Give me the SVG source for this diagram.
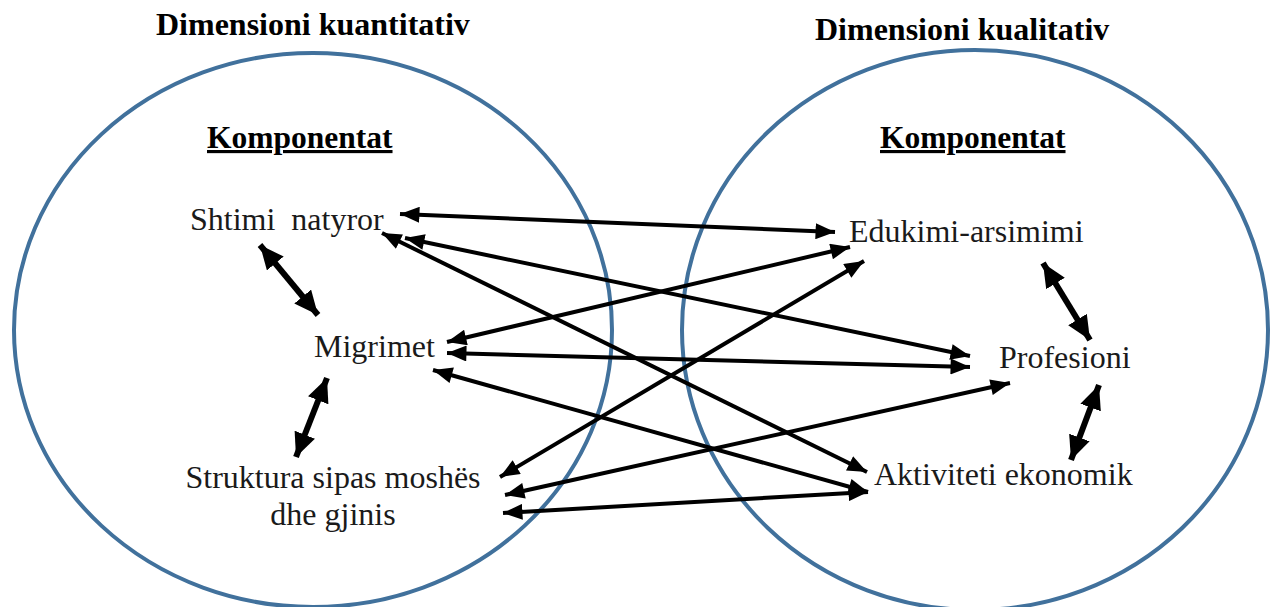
<svg xmlns="http://www.w3.org/2000/svg" width="1274" height="607" viewBox="0 0 1274 607">
<style>
.ring{fill:none;stroke:#41719c;stroke-width:4}
.hd{font-family:"Liberation Serif","Times New Roman",serif;font-weight:bold;font-size:32px;fill:#000}
.comp{font-family:"Liberation Serif","Times New Roman",serif;font-weight:bold;font-size:31.5px;fill:#000;text-decoration:underline}
.lbl{font-family:"Liberation Serif","Times New Roman",serif;font-size:32px;fill:#1a1a1a}
.c{stroke:#000;stroke-width:4;fill:none;marker-start:url(#ah);marker-end:url(#ah)}
.ct{stroke:#000;stroke-width:6;fill:none;marker-start:url(#aht);marker-end:url(#aht)}
</style>
<defs>
<marker id="ah" markerUnits="userSpaceOnUse" markerWidth="20" markerHeight="16" refX="17" refY="7" orient="auto-start-reverse" viewBox="0 0 17 14">
<path d="M0,0 L17,7 L0,14 Z" fill="#000"/>
</marker>
<marker id="aht" markerUnits="userSpaceOnUse" markerWidth="24" markerHeight="22" refX="22" refY="10" orient="auto-start-reverse" viewBox="0 0 22 20">
<path d="M0,0 L22,10 L0,20 Z" fill="#000"/>
</marker>
</defs>
<rect width="1274" height="607" fill="#fff"/>
<g id="dim-kuantitativ">
<ellipse class="ring" cx="313" cy="330" rx="299" ry="277"/>
<text class="hd" x="156" y="35">Dimensioni kuantitativ</text>
<text class="comp" x="207" y="148">Komponentat</text>
</g>
<g id="dim-kualitativ">
<ellipse class="ring" cx="975" cy="330" rx="293" ry="280"/>
<text class="hd" x="815" y="40">Dimensioni kualitativ</text>
<text class="comp" x="880" y="148">Komponentat</text>
</g>
<g id="n-shtimi"><text class="lbl" x="190" y="230" xml:space="preserve">Shtimi  natyror</text></g>
<g id="n-migrimet"><text class="lbl" x="314" y="357">Migrimet</text></g>
<g id="n-struktura"><text class="lbl" x="333" y="488" text-anchor="middle">Struktura sipas moshës</text><text class="lbl" x="333" y="525" text-anchor="middle">dhe gjinis</text></g>
<g id="n-edukimi"><text class="lbl" x="849" y="242">Edukimi-arsimimi</text></g>
<g id="n-profesioni"><text class="lbl" x="999" y="368">Profesioni</text></g>
<g id="n-aktiviteti"><text class="lbl" x="874" y="485">Aktiviteti ekonomik</text></g>
<g id="connectors">
<line class="c" x1="400" y1="214" x2="835" y2="232"/>
<line class="c" x1="405" y1="238" x2="970" y2="356"/>
<line class="c" x1="382" y1="233" x2="867" y2="472"/>
<line class="c" x1="447" y1="342" x2="850" y2="247"/>
<line class="c" x1="447" y1="353" x2="970" y2="367"/>
<line class="c" x1="433" y1="370" x2="868" y2="492"/>
<line class="c" x1="500" y1="477" x2="864" y2="261"/>
<line class="c" x1="505" y1="495" x2="1010" y2="383"/>
<line class="c" x1="503" y1="513" x2="868" y2="492"/>
<line class="ct" x1="260" y1="245" x2="318" y2="315"/>
<line class="ct" x1="327" y1="378" x2="296" y2="457"/>
<line class="ct" x1="1043" y1="263" x2="1090" y2="340"/>
<line class="ct" x1="1099" y1="385" x2="1071" y2="460"/>
</g>
</svg>
